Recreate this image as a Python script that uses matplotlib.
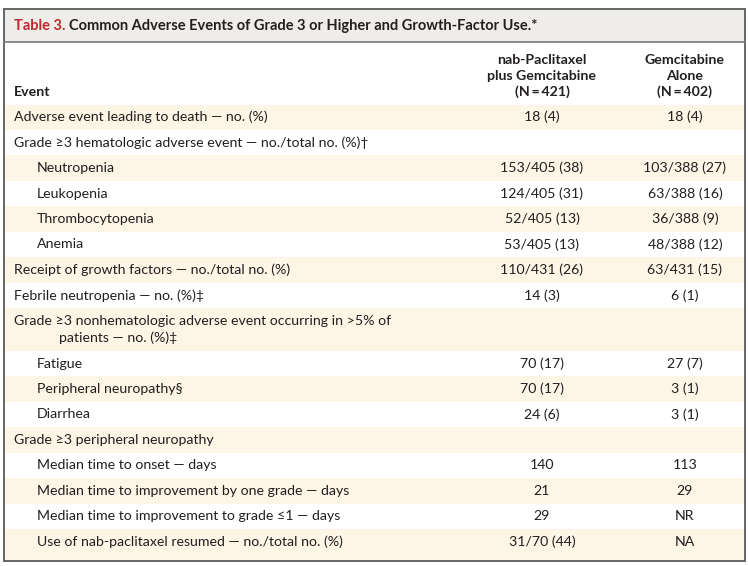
import matplotlib
matplotlib.use("Agg")
import matplotlib.pyplot as plt
from matplotlib.patches import Rectangle

plt.rcParams['font.family'] = ['Lato', 'DejaVu Sans']

# table content
title_num = "Table 3."
title_text = "Common Adverse Events of Grade 3 or Higher and Growth-Factor Use.*"
col_headers = [["nab-Paclitaxel", "plus Gemcitabine", "(N\u2009=\u2009421)"],
               ["Gemcitabine", "Alone", "(N\u2009=\u2009402)"]]
events = [
    "Adverse event leading to death \u2014 no. (%)",
    "Grade \u22653 hematologic adverse event \u2014 no./total no. (%)\u2020",
    "Neutropenia",
    "Leukopenia",
    "Thrombocytopenia",
    "Anemia",
    "Receipt of growth factors \u2014 no./total no. (%)",
    "Febrile neutropenia \u2014 no. (%)\u2021",
    "Grade \u22653 nonhematologic adverse event occurring in >5% of\npatients \u2014 no. (%)\u2021",
    "Fatigue",
    "Peripheral neuropathy\u00a7",
    "Diarrhea",
    "Grade \u22653 peripheral neuropathy",
    "Median time to onset \u2014 days",
    "Median time to improvement by one grade \u2014 days",
    "Median time to improvement to grade \u22641 \u2014 days",
    "Use of nab-paclitaxel resumed \u2014 no./total no. (%)",
]
indent = [0, 0, 1, 1, 1, 1, 0, 0, 0, 1, 1, 1, 0, 1, 1, 1, 1]
nab_gem = ["18 (4)", "", "153/405 (38)", "124/405 (31)", "52/405 (13)", "53/405 (13)",
           "110/431 (26)", "14 (3)", "", "70 (17)", "70 (17)", "24 (6)", "",
           "140", "21", "29", "31/70 (44)"]
gem_alone = ["18 (4)", "", "103/388 (27)", "63/388 (16)", "36/388 (9)", "48/388 (12)",
             "63/431 (15)", "6 (1)", "", "27 (7)", "3 (1)", "3 (1)", "",
             "113", "29", "NR", "NA"]

W, H = 748, 566
fig = plt.figure(figsize=(W / 100, H / 100), dpi=100)
ax = fig.add_axes([0, 0, 1, 1])
ax.set_xlim(0, W)
ax.set_ylim(H, 0)
ax.axis("off")

txt = "#231f20"
shade = "#fdf5e6"
left, right = 4, 745
top, title_bot, head_bot, bottom = 9, 42, 104.5, 561
row_h = 25.45
fs = 10.2

# title band
ax.add_patch(Rectangle((left, top), right - left, title_bot - top, facecolor="#efedea", edgecolor="none"))
ax.plot([left, right], [title_bot, title_bot], color="#7a7a7a", lw=1.2)
t1 = ax.text(14, 26, title_num + " ", color="#c1272d", fontsize=10.5, fontweight="bold", va="center")
fig.canvas.draw()
x_after = t1.get_window_extent().x1
ax.annotate(title_text, xy=(x_after, 26), xycoords=("figure pixels", "data"),
            color=txt, fontsize=10.5, fontweight="bold", va="center")

# column headers
ax.text(14, 92, "Event", color=txt, fontsize=fs, fontweight="bold", va="center")
col_x = [542, 685]
head_y = [60.5, 76.5, 92]
for x, lines in zip(col_x, col_headers):
    for yy, s in zip(head_y, lines):
        ax.text(x, yy, s, color=txt, fontsize=fs, fontweight="bold", ha="center", va="center")

# rows
y = head_bot
for i, ev in enumerate(events):
    lines = ev.split("\n")
    h = row_h if len(lines) == 1 else row_h * 1.68
    if i % 2 == 0:
        hh = bottom - y if i == len(events) - 1 else h
        ax.add_patch(Rectangle((left, y), right - left, hh, facecolor=shade, edgecolor="none"))
    if len(lines) == 1:
        yc = y + h / 2
        ax.text(14 + 23 * indent[i], yc, ev, color=txt, fontsize=fs, va="center")
    else:
        yc = y + 13
        ax.text(14, yc, lines[0], color=txt, fontsize=fs, va="center")
        ax.text(59, y + 30, lines[1], color=txt, fontsize=fs, va="center")
    ax.text(col_x[0], yc, nab_gem[i], color=txt, fontsize=fs, va="center", ha="center")
    ax.text(col_x[1], yc, gem_alone[i], color=txt, fontsize=fs, va="center", ha="center")
    y += h

ax.add_patch(Rectangle((left, top), right - left, bottom - top, facecolor="none", edgecolor="#5a5a5a", lw=1.3))

fig.savefig("out.png", dpi=100)
